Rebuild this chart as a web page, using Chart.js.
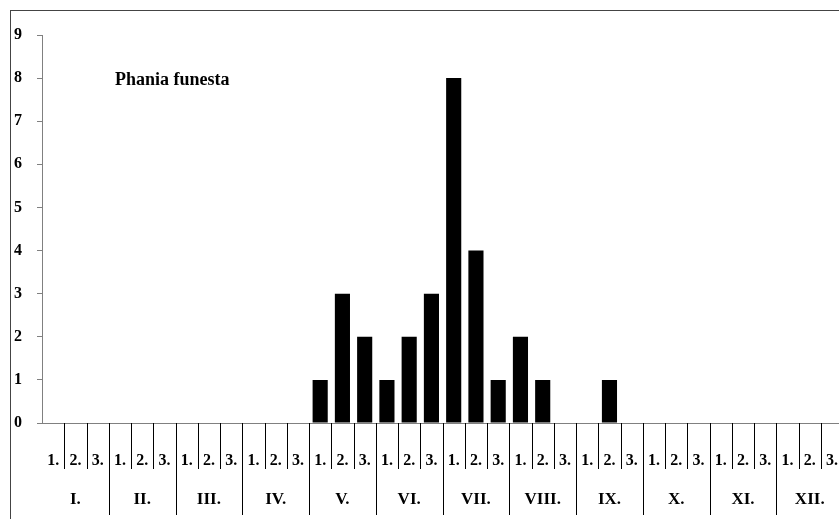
<!DOCTYPE html>
<html>
<head>
<meta charset="utf-8">
<script src="https://cdn.jsdelivr.net/npm/chart.js@4/dist/chart.umd.min.js"></script>
<style>
html,body{margin:0;padding:0;overflow:hidden;background:#fff}
#wrap{width:858px;height:519px}
</style>
</head>
<body>
<div id="wrap"><canvas id="c" width="858" height="519"></canvas></div>
<script>
const months=["I.","II.","III.","IV.","V.","VI.","VII.","VIII.","IX.","X.","XI.","XII."];
const decades=["1.","2.","3."];
const counts=[0,0,0, 0,0,0, 0,0,0, 0,0,0, 1,3,2, 1,2,3, 8,4,1, 2,1,0, 0,1,0, 0,0,0, 0,0,0, 0,0,0];
const speciesName="Phania funesta";

const labels=[];
months.forEach(m=>decades.forEach(d=>labels.push(d)));
const FONT='"Liberation Serif", serif';

const extras={
id:"extras",
afterDraw(chart){
const ctx=chart.ctx, x=chart.scales.x, a=chart.chartArea;
ctx.save();
// frame
ctx.strokeStyle="#444";ctx.lineWidth=1;
ctx.strokeRect(10.5,10.5,900,600);
// separators
ctx.strokeStyle="#000";
const step=x.getPixelForValue(1)-x.getPixelForValue(0);
for(let i=1;i<=labels.length;i++){
const px=Math.round(x.getPixelForValue(i)-step/2)+0.5;
const isMonth=i%3===0;
ctx.beginPath();ctx.moveTo(px,a.bottom);ctx.lineTo(px,isMonth?515:469);ctx.stroke();
}
// month labels
ctx.fillStyle="#000";ctx.font="bold 17px "+FONT;ctx.textAlign="center";ctx.textBaseline="middle";
months.forEach((m,k)=>{ctx.fillText(m,x.getPixelForValue(k*3+1),500);});
// species name
ctx.font="bold 18px "+FONT;ctx.textAlign="left";
ctx.fillText(speciesName,115,80);
ctx.restore();
}
};

new Chart(document.getElementById("c"),{
type:"bar",
data:{labels:labels,datasets:[{data:counts,backgroundColor:"#000",borderWidth:0,barPercentage:0.68,categoryPercentage:1}]},
options:{
responsive:false,animation:false,
layout:{padding:{left:10,top:35,right:0,bottom:0}},
plugins:{legend:{display:false},tooltip:{enabled:false}},
scales:{
x:{
grid:{display:false},
border:{display:true,color:"#808080",width:1},
ticks:{color:"#000",font:{family:FONT,size:16,weight:"bold"},autoSkip:false,maxRotation:0,padding:20},
afterFit(s){s.height=96;}
},
y:{
min:0,max:9,
grid:{drawOnChartArea:false,drawTicks:true,tickLength:5,color:"#808080"},
border:{display:true,color:"#808080",width:1},
ticks:{stepSize:1,color:"#000",font:{family:FONT,size:16,weight:"bold"},padding:15},
afterFit(s){s.width=32;}
}
}
},
plugins:[extras]
});
</script>
</body>
</html>
